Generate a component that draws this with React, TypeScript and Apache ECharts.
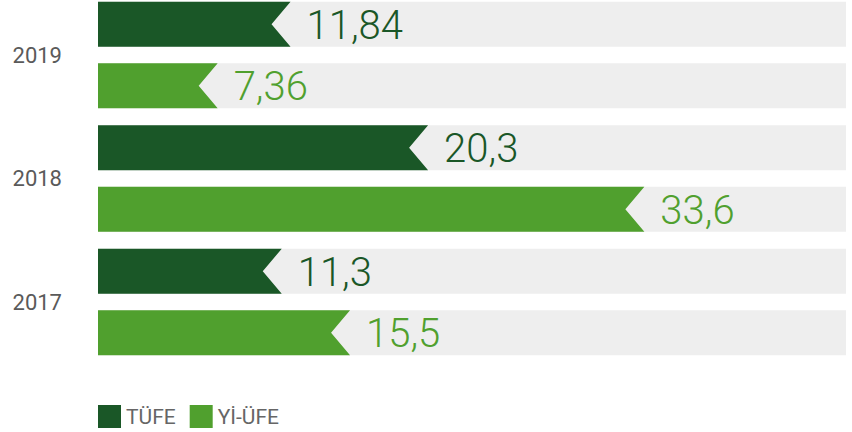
import React, { useEffect, useRef } from "react";
import * as echarts from "echarts";

const categories = ["2019", "2018", "2017"];
const tufeValues = [11.84, 20.3, 11.3];
const yiUfeValues = [7.36, 33.6, 15.5];
const seriesNames = ["TÜFE", "Yİ-ÜFE"];
const xMax = 46;

const DARK = "#1a5727";
const LIGHT = "#50a02e";
const BG = "#eeeeee";
const FONT = "Roboto, 'Noto Sans', sans-serif";

function makeRender(offsetSign: number, color: string) {
  return (params: any, api: any) => {
    const catIdx = api.value(1);
    const val = api.value(0);
    const start = api.coord([0, catIdx]);
    const end = api.coord([val, catIdx]);
    const full = api.coord([xMax, catIdx]);
    const barH = 45;
    const offset = 30.75 * offsetSign;
    const mid = start[1] + offset;
    const top = mid - barH / 2;
    const bot = mid + barH / 2;
    const x0 = start[0];
    const xe = end[0];
    const notch = 19;
    const label = String(val).replace(".", ",");
    return {
      type: "group",
      children: [
        {
          type: "rect",
          shape: { x: x0, y: top, width: full[0] - x0, height: barH },
          style: { fill: BG },
        },
        {
          type: "polygon",
          shape: {
            points: [
              [x0, top],
              [xe, top],
              [xe - notch, mid],
              [xe, bot],
              [x0, bot],
            ],
          },
          style: { fill: color },
        },
        {
          type: "text",
          x: xe + 16,
          y: mid + 1,
          style: {
            text: label,
            fill: color,
            font: `300 40px ${FONT}`,
            verticalAlign: "middle",
            align: "left",
          },
        },
      ],
    };
  };
}

export default function App() {
  const ref = useRef<HTMLDivElement>(null);
  useEffect(() => {
    if (!ref.current) return;
    const chart = echarts.init(ref.current, null, { renderer: "svg" });
    chart.setOption({
      animation: false,
      grid: {
        left: 98,
        right: 6,
        top: -6.75,
        bottom: 68.25,
        containLabel: false,
        outerBoundsMode: "none",
      },
      xAxis: { type: "value", min: 0, max: xMax, show: false },
      yAxis: {
        type: "category",
        data: categories,
        inverse: true,
        axisLine: { show: false },
        axisTick: { show: false },
        splitLine: { show: false },
        axisLabel: { color: "#5a5a5a", fontSize: 22, fontFamily: FONT, margin: 36 },
      },
      legend: {
        left: 98,
        top: 405,
        itemWidth: 23,
        itemHeight: 23,
        itemGap: 14,
        icon: "rect",
        textStyle: { color: "#666666", fontSize: 21, fontFamily: FONT, padding: [0, 0, 0, 0] },
        padding: 0,
        data: seriesNames,
      },
      series: [
        {
          name: seriesNames[0],
          type: "custom",
          itemStyle: { color: DARK },
          encode: { x: 0, y: 1 },
          data: tufeValues.map((v, i) => [v, i]),
          renderItem: makeRender(-1, DARK),
        },
        {
          name: seriesNames[1],
          type: "custom",
          itemStyle: { color: LIGHT },
          encode: { x: 0, y: 1 },
          data: yiUfeValues.map((v, i) => [v, i]),
          renderItem: makeRender(1, LIGHT),
        },
      ],
    });
    return () => chart.dispose();
  }, []);
  return (
    <div
      ref={ref}
      style={{ position: "absolute", left: 0, top: 0, width: 852, height: 432 }}
    />
  );
}
